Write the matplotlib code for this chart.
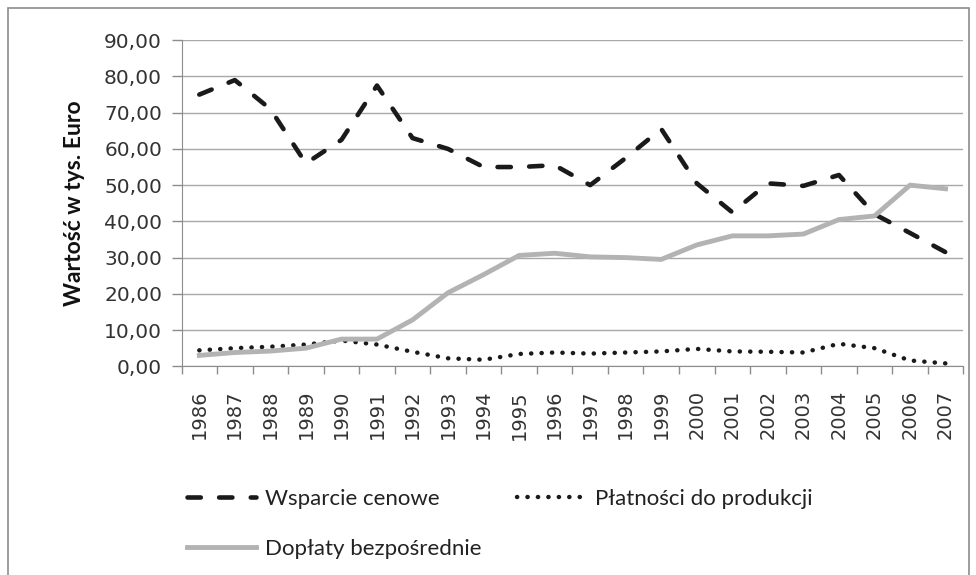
import matplotlib.pyplot as plt
import numpy as np
from matplotlib.patches import Rectangle

# Dane
lata = [str(r) for r in range(1986, 2008)]
wsparcie_cenowe = [75.0, 79.0, 71.0, 56.0, 62.5, 77.5, 63.0, 60.0, 55.0, 55.0, 55.5,
                   50.0, 57.5, 65.5, 50.5, 42.5, 50.5, 49.8, 52.8, 42.0, 36.8, 31.5]
platnosci_do_produkcji = [4.4, 5.0, 5.4, 6.0, 7.1, 6.0, 4.0, 2.2, 1.8, 3.4, 3.8,
                          3.5, 3.8, 4.1, 4.8, 4.1, 4.0, 3.8, 6.2, 5.0, 1.6, 0.8]
doplaty_bezposrednie = [3.0, 3.8, 4.2, 5.0, 7.5, 7.5, 12.8, 20.3, 25.3, 30.6, 31.2,
                        30.2, 30.0, 29.5, 33.5, 36.0, 36.0, 36.5, 40.5, 41.5, 50.0, 49.0]

plt.rcParams['font.family'] = ['DejaVu Sans']

fig = plt.figure(figsize=(9.76, 5.75), dpi=100)
ax = fig.add_axes([0.186, 0.363, 0.801, 0.567])

x = np.arange(len(lata))
l1, = ax.plot(x, wsparcie_cenowe, color='#1a1a1a', lw=3.3, linestyle=(0, (2.9, 4.0)),
              dash_capstyle='round', label='Wsparcie cenowe')
l2, = ax.plot(x, platnosci_do_produkcji, color='#1a1a1a', lw=3.2, linestyle=(0, (0.05, 2.3)),
              dash_capstyle='round', label='Płatności do produkcji')
l3, = ax.plot(x, doplaty_bezposrednie, color='#b3b3b3', lw=3.5, label='Dopłaty bezpośrednie')

ax.set_xlim(-0.5, len(lata) - 0.5)
ax.set_ylim(0, 90)
ax.set_yticks(np.arange(0, 91, 10))
ax.set_yticklabels([f'{v:.2f}'.replace('.', ',') for v in range(0, 91, 10)], fontsize=14.5, color='#333333')
ax.yaxis.grid(True, color='#a8a8a8', lw=1)
ax.set_axisbelow(True)

ax.set_xticks(x)
ax.set_xticklabels(lata, rotation=90, fontsize=14, color='#333333')
ax.set_xticks(np.arange(-0.5, len(lata), 1), minor=True)
ax.tick_params(axis='x', which='major', length=0, pad=17)
ax.tick_params(axis='x', which='minor', length=6, color='#8c8c8c', width=1)
ax.tick_params(axis='y', length=7, color='#8c8c8c', width=1, pad=7)

for s in ['top', 'right']:
    ax.spines[s].set_visible(False)
ax.spines['left'].set_color('#8c8c8c')
ax.spines['bottom'].set_color('#8c8c8c')

ax.set_ylabel('Wartość w tys. Euro', fontsize=16.5, fontweight='bold', family='Lato',
              labelpad=14, color='#111111')

fig.legend([l1, l3, l2], ['Wsparcie cenowe', 'Dopłaty bezpośrednie', 'Płatności do produkcji'],
           ncol=2, loc='upper left', bbox_to_anchor=(0.171, 0.184), frameon=False,
           prop={'family': 'Lato', 'size': 16}, handlelength=3.1, labelspacing=1.35,
           columnspacing=1.6, handletextpad=0.4, labelcolor='#222222')

fig.patches.append(Rectangle((0.008, -0.01), 0.985, 0.996, transform=fig.transFigure,
                             fill=False, edgecolor='#8c8c8c', lw=1.2))

fig.savefig('out.png', dpi=100)
